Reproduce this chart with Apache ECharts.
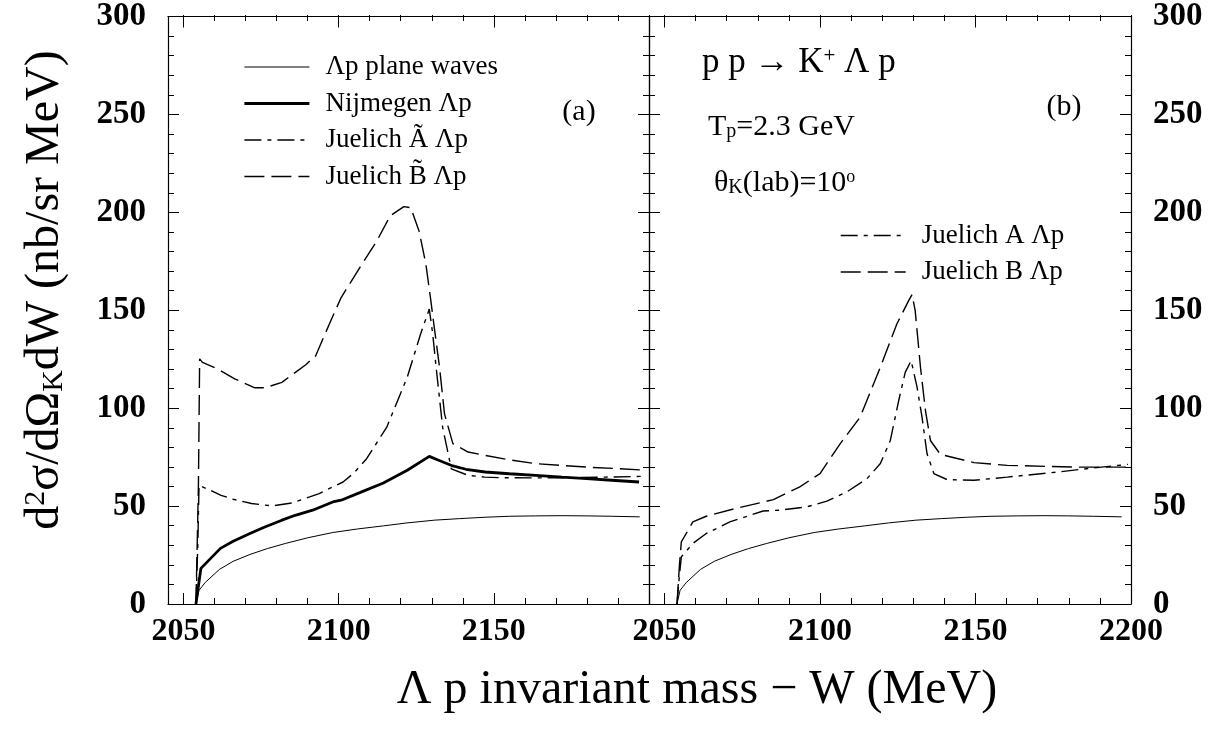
<!DOCTYPE html>
<html>
<head>
<meta charset="utf-8">
<script src="https://cdn.jsdelivr.net/npm/echarts@6/dist/echarts.min.js"></script>
<style>html,body{margin:0;padding:0;background:#fff}#chart{width:1225px;height:740px}</style>
</head>
<body>
<div id="chart"></div>
<script>
// ---------- data ----------
const xMajorTicks = [2050, 2100, 2150, 2200];
const xMinorTicks = [2050, 2060, 2070, 2080, 2090, 2100, 2110, 2120, 2130, 2140, 2150, 2160, 2170, 2180, 2190, 2200];
const xLabelsLeft = [2050, 2100, 2150];
const xLabelsRight = [2050, 2100, 2150, 2200];

// plane waves (both panels)
const pwX = [2054, 2055, 2057, 2061.6, 2066, 2071.4, 2077, 2082.8, 2090, 2098.1, 2106, 2114.4, 2122, 2130.8, 2139, 2147.2, 2155, 2163.5, 2172, 2180, 2188, 2197];
const pwY = [0, 7, 11, 17.7, 21.8, 25.3, 28.3, 30.9, 33.8, 36.5, 38.3, 39.9, 41.4, 42.8, 43.6, 44.3, 44.8, 45.0, 45.1, 45.0, 44.8, 44.5];

// Nijmegen (left)
const nijX = [2054, 2055.6, 2061.9, 2066, 2071.4, 2076, 2081.7, 2086, 2091.6, 2098.1, 2100.8, 2107, 2114.4, 2122.1, 2129.2, 2132, 2136.8, 2141, 2147.2, 2155, 2163.5, 2172, 2179.9, 2188, 2196.8];
const nijY = [0, 18.2, 28.4, 32, 36.0, 39.2, 42.8, 45.3, 47.9, 52.1, 53.0, 57, 61.8, 68.3, 75.4, 73.5, 70.5, 68.8, 67.4, 66.5, 65.7, 64.8, 64.0, 63.2, 62.3];

// Juelich A-tilde (left, dash-dot)
const jatX = [2054, 2054.6, 2055.0, 2058, 2062.1, 2066, 2071.9, 2078.5, 2085.0, 2093.7, 2101.4, 2105, 2109.0, 2115.5, 2122.1, 2126.4, 2129.2, 2130.3, 2131.4, 2133.5, 2136.3, 2141.7, 2147, 2152.6, 2163, 2174.5, 2186, 2199];
const jatY = [0, 30, 60.6, 58.5, 55.5, 53.5, 51.3, 50.1, 51.6, 56.4, 62.3, 67, 74.2, 90.3, 115.8, 137.9, 150.6, 138, 120.9, 90.3, 69.0, 65.7, 64.8, 64.5, 64.4, 64.5, 64.8, 65.2];

// Juelich B-tilde (left, long dash)
const jbtX = [2054, 2054.8, 2055.2, 2056.1, 2061, 2066.5, 2073, 2076.3, 2081.7, 2089.4, 2092.6, 2097, 2100.8, 2106.8, 2112.3, 2116.6, 2121, 2123.2, 2125.9, 2128.1, 2129.7, 2130.8, 2132.5, 2134.1, 2136.8, 2141.7, 2147.2, 2155, 2163.5, 2172, 2179.9, 2190, 2199];
const jbtY = [0, 60, 125.2, 123.4, 120, 115, 110.4, 110.4, 113.2, 122.2, 126.8, 143, 156.5, 171.8, 185.4, 198.2, 202.9, 202.4, 190.5, 173.6, 154.9, 141.3, 120.9, 97.1, 81.9, 77.6, 75.9, 73.6, 71.7, 70.7, 69.9, 69.1, 68.3];

// Juelich A (right, dash-dot)
const jaX = [2054, 2054.8, 2055.4, 2059.1, 2063.4, 2071, 2081.7, 2087.1, 2095.7, 2102.2, 2108.6, 2115.1, 2119.4, 2122.6, 2125.3, 2127.4, 2129.3, 2131.2, 2132.8, 2134.4, 2136.6, 2140.9, 2149.5, 2160.2, 2176.4, 2188, 2199];
const jaY = [0, 15, 24.1, 30.9, 36.0, 41.9, 47.5, 47.9, 49.6, 52.5, 57.2, 64.0, 71.7, 83.5, 103.9, 118.3, 124.3, 110.7, 95.4, 76.8, 66.6, 63.5, 63.2, 64.8, 67.4, 69.5, 71.3];

// Juelich B (right, long dash)
const jbX = [2054, 2054.8, 2055.4, 2059.1, 2063.4, 2072.6, 2085, 2093.5, 2100, 2106.5, 2112.9, 2119.4, 2124.7, 2128.5, 2129.6, 2130.6, 2132.3, 2133.9, 2135.5, 2138.7, 2149.5, 2160.2, 2181.7, 2199];
const jbY = [0, 20, 31.7, 41.9, 44.8, 48.7, 53.3, 59.8, 66.6, 81.9, 95.4, 120.9, 143, 154.9, 158, 149.8, 120.9, 98.8, 83.5, 76.4, 72.2, 70.8, 69.9, 69.9];

const names = {
  pw: 'Λp plane waves',
  nij: 'Nijmegen Λp',
  jat: 'Juelich Ã Λp',
  jbt: 'Juelich B\u0303 Λp',
  ja: 'Juelich A Λp',
  jb: 'Juelich B Λp'
};

// ---------- chart ----------
const FONT = "'Liberation Serif', 'DejaVu Serif', serif";
const zip = (xs, ys) => xs.map((x, i) => [x, ys[i]]);
const DASH = [20, 7];
const DASHDOT = [17, 6, 4, 6];

const G0 = {left: 168, top: 15, width: 481, height: 589};
const G1 = {left: 649, top: 15, width: 482, height: 589};

function xMain(grid, pos, labels) {
  return {
    type: 'value', gridIndex: grid, position: pos, min: 2045, max: 2200,
    axisLine: {show: true, onZero: false, lineStyle: {color: '#000', width: 1.2}},
    axisTick: {show: true, inside: true, length: 11, customValues: xMajorTicks, lineStyle: {color: '#000', width: 1}},
    axisLabel: labels ? {show: true, customValues: labels, margin: 12, color: '#000', fontFamily: FONT, fontWeight: 'bold', fontSize: 32, formatter: v => String(v)} : {show: false},
    splitLine: {show: false}
  };
}
function xMinor(grid, pos) {
  return {
    type: 'value', gridIndex: grid, position: pos, min: 2045, max: 2200,
    axisLine: {show: false, onZero: false},
    axisTick: {show: true, inside: true, length: 6, customValues: xMinorTicks, lineStyle: {color: '#000', width: 1}},
    axisLabel: {show: false},
    splitLine: {show: false}
  };
}
function yMain(grid, pos, labels) {
  return {
    type: 'value', gridIndex: grid, position: pos, min: 0, max: 300, interval: 50,
    axisLine: {show: true, onZero: false, lineStyle: {color: '#000', width: 1.2}},
    axisTick: {show: true, inside: true, length: 11, lineStyle: {color: '#000', width: 1}},
    minorTick: {show: true, splitNumber: 5, length: 6, lineStyle: {color: '#000', width: 1}},
    axisLabel: labels ? {show: true, margin: 22, color: '#000', fontFamily: FONT, fontWeight: 'bold', fontSize: 33} : {show: false},
    splitLine: {show: false}, minorSplitLine: {show: false}
  };
}
function yHidden(grid) {
  return {type: 'value', gridIndex: grid, min: 0, max: 300, show: false};
}

function line(name, xs, ys, xi, yi, width, dash) {
  return {
    name: name, type: 'line', xAxisIndex: xi, yAxisIndex: yi, data: zip(xs, ys),
    symbol: 'none', smooth: false,
    lineStyle: {color: '#000', width: width, type: dash || 'solid'}
  };
}

function legendBox(left, top, data) {
  return {
    left: left, top: top, orient: 'vertical', itemWidth: 65, itemHeight: 14, itemGap: 9.5,
    selectedMode: false,
    textStyle: {fontFamily: FONT, fontSize: 27, color: '#000', padding: [0, 0, 0, 11]},
    lineStyle: {width: 'inherit'},
    itemStyle: {color: 'rgba(0,0,0,0)', borderColor: 'rgba(0,0,0,0)', borderWidth: 0},
    data: data
  };
}

const option = {
  animation: false,
  backgroundColor: '#fff',
  grid: [G0, G1, G0, G1],
  xAxis: [
    xMain(0, 'bottom', xLabelsLeft),
    xMain(0, 'top', null),
    xMain(1, 'bottom', xLabelsRight),
    xMain(1, 'top', null),
    xMinor(2, 'bottom'),
    xMinor(2, 'top'),
    xMinor(3, 'bottom'),
    xMinor(3, 'top')
  ],
  yAxis: [
    yMain(0, 'left', true),
    yMain(0, 'right', false),
    yMain(1, 'left', false),
    yMain(1, 'right', true),
    yHidden(2),
    yHidden(3)
  ],
  legend: [
    legendBox(238, 48.5, [names.pw, names.nij, names.jat, names.jbt]),
    legendBox(835, 217, [names.ja, names.jb])
  ],
  series: [
    line(names.pw, pwX, pwY, 0, 0, 1),
    line(names.nij, nijX, nijY, 0, 0, 2.8),
    line(names.jat, jatX, jatY, 0, 0, 1.4, DASHDOT),
    line(names.jbt, jbtX, jbtY, 0, 0, 1.4, DASH),
    line(names.pw, pwX, pwY, 2, 2, 1),
    line(names.ja, jaX, jaY, 2, 2, 1.4, DASHDOT),
    line(names.jb, jbX, jbY, 2, 2, 1.4, DASH)
  ],
  graphic: [
    {
      type: 'text', x: 45, y: 290, rotation: Math.PI / 2,
      style: {
        text: 'd{sup|2}σ/dΩ{sub|K}dW (nb/sr MeV)',
        fontFamily: FONT, fontSize: 48, fill: '#000', align: 'center', verticalAlign: 'middle',
        rich: {
          sup: {fontFamily: FONT, fontSize: 30, fill: '#000', verticalAlign: 'top'},
          sub: {fontFamily: FONT, fontSize: 30, fill: '#000', verticalAlign: 'bottom'}
        }
      }
    },
    {
      type: 'text', x: 697, y: 690,
      style: {text: 'Λ p invariant mass − W (MeV)', fontFamily: FONT, fontSize: 48, fill: '#000', align: 'center', verticalAlign: 'middle'}
    },
    {
      type: 'text', x: 579, y: 112,
      style: {text: '(a)', fontFamily: FONT, fontSize: 30, fill: '#000', align: 'center', verticalAlign: 'middle'}
    },
    {
      type: 'text', x: 1064, y: 107,
      style: {text: '(b)', fontFamily: FONT, fontSize: 30, fill: '#000', align: 'center', verticalAlign: 'middle'}
    },
    {
      type: 'text', x: 702, y: 63,
      style: {
        text: 'p p → K{sup|+} Λ p', fontFamily: FONT, fontSize: 35, fill: '#000', align: 'left', verticalAlign: 'middle',
        rich: {sup: {fontFamily: FONT, fontSize: 21, fill: '#000', verticalAlign: 'top'}}
      }
    },
    {
      type: 'text', x: 708, y: 127,
      style: {
        text: 'T{sub|p}=2.3 GeV', fontFamily: FONT, fontSize: 30, fill: '#000', align: 'left', verticalAlign: 'middle',
        rich: {sub: {fontFamily: FONT, fontSize: 20, fill: '#000', verticalAlign: 'bottom'}}
      }
    },
    {
      type: 'text', x: 714, y: 183,
      style: {
        text: 'θ{sub|K}(lab)=10{sup|o}', fontFamily: FONT, fontSize: 30, fill: '#000', align: 'left', verticalAlign: 'middle',
        rich: {
          sub: {fontFamily: FONT, fontSize: 20, fill: '#000', verticalAlign: 'bottom'},
          sup: {fontFamily: FONT, fontSize: 18, fill: '#000', verticalAlign: 'top'}
        }
      }
    }
  ]
};

const chart = echarts.init(document.getElementById('chart'));
chart.setOption(option);
</script>
</body>
</html>
